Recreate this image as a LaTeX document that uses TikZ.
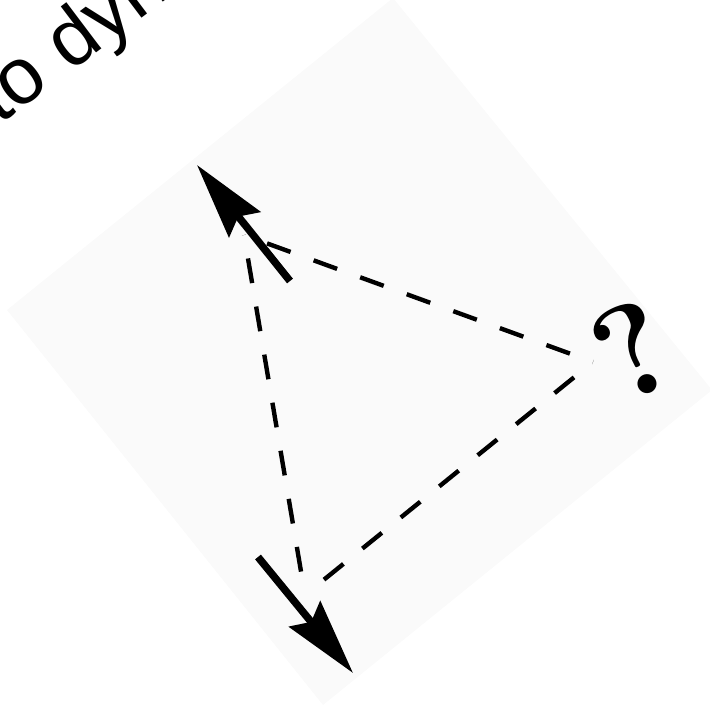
\documentclass[tikz,border=0pt]{standalone}
\usepackage{fontspec}
\newfontfamily\labelsans{Liberation Sans}
\usetikzlibrary{arrows.meta, calc, decorations}
\definecolor{fdPaper}{HTML}{FAFAFA}
\definecolor{fdInk}{HTML}{000000}
\tikzset{
    fdSheet/.style={
        fill=fdPaper,
        draw=none
    },
    % dashed sides of the triangle
    fdSide/.style={
        draw=fdInk,
        line width=4.4pt,
        dash pattern=on 25pt off 20pt,
        dash expand off
    },
    % the two bold motion arrows
    fdMotion/.style={
        -{Stealth[length=76pt, width=40pt, inset=10pt]},
        draw=fdInk,
        line width=7.5pt
    },
    fdMark/.style={
        inner sep=0pt,
        font=\bfseries\fontsize{132}{132}\selectfont
    },
    fdCaption/.style={
        inner sep=0pt,
        anchor=base west,
        font=\labelsans\fontsize{80}{80}\selectfont
    }
}

\begin{document}
\begin{tikzpicture}[x=1pt, y=-1pt]
\useasboundingbox (0,0) rectangle (710,707);

% tilted sheet behind the sketch
\coordinate (sheetL) at (7,310);
\coordinate (sheetT) at (393,-2);
\coordinate (sheetR) at (712,390);
\coordinate (sheetB) at (323,705);
\fill[fdSheet] (sheetL) -- (sheetT) -- (sheetR) -- (sheetB) -- cycle;

\node[fdCaption, rotate=37] (caption) at (-1,126) {to dyn};

% corners of the triangle
\coordinate (topV) at (244,235);
\coordinate (rightV) at (593,362);
\coordinate (lowV) at (305,595);

\draw[fdSide] (topV) -- (rightV);
\draw[fdSide] (rightV) -- (lowV);
\draw[fdSide] (lowV) -- (topV);

% motion arrows
\coordinate (upTail) at (290,281);
\coordinate (upTip) at (197,165);
\coordinate (downTail) at (258,557);
\coordinate (downTip) at (353,673);
\draw[fdMotion] (upTail) -- (upTip);
\draw[fdMotion] (downTail) -- (downTip);

\node[fdMark, rotate=27] (unknown) at (633,350) {?};
\end{tikzpicture}
\end{document}
